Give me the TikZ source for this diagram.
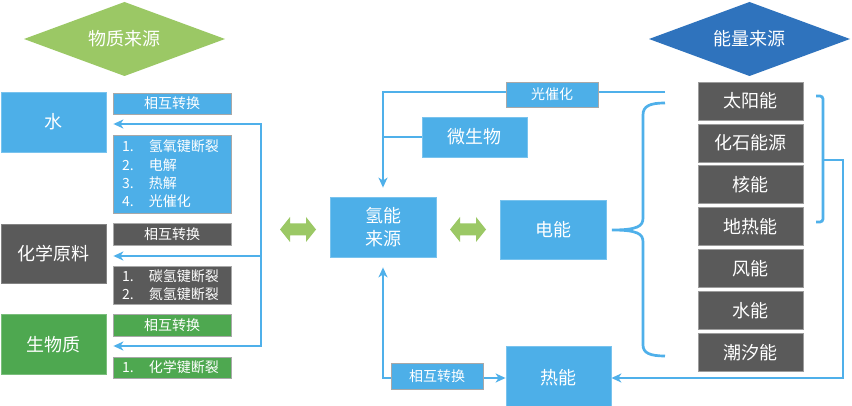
\documentclass[tikz,border=0pt]{standalone}
\usepackage{fontspec}
\setmainfont{Noto Sans CJK SC}
\usetikzlibrary{arrows.meta,backgrounds}
\definecolor{bbox}{HTML}{4DAFE8}
\definecolor{gbox}{HTML}{5A5A5A}
\definecolor{grbox}{HTML}{4EA850}
\definecolor{ldia}{HTML}{9BC865}
\definecolor{bdia}{HTML}{2F73BD}
\definecolor{cline}{HTML}{4FB0EA}
\definecolor{edge}{HTML}{A8A8A8}
\tikzset{
  big/.style={minimum width=105pt, minimum height=59pt, inner sep=0pt, text=white,
    font=\fontsize{18}{23}\selectfont, align=center, fill=#1, draw=#1!75!white, line width=0.8pt},
  small/.style={minimum width=118pt, inner sep=0pt, text=white,
    font=\fontsize{14}{18.3}\selectfont, fill=#1, draw=edge, line width=0.8pt},
  lst/.style={small=#1, text width=100pt, inner xsep=9pt, inner ysep=0pt, align=left},
  eng/.style={fill=gbox, draw=gbox!60!white, line width=0.6pt, minimum width=105pt, minimum height=38pt,
    inner sep=0pt, text=white, font=\fontsize{18}{22}\selectfont},
  diatext/.style={text=white, font=\fontsize{18}{22}\selectfont, inner sep=0pt},
  conn/.style={draw=cline, line width=2.7pt},
  arr/.style={-{Stealth[length=10pt,width=9pt,inset=3pt]}},
  barr/.style={{Stealth[length=10pt,width=9pt,inset=3pt]}-{Stealth[length=10pt,width=9pt,inset=3pt]}},
}
\newcommand\mydblarrow[1]{%
  \fill[ldia, shift={(#1)}] (-18,0) -- (-8,-12.5) -- (-8,-6) -- (8,-6) -- (8,-12.5) -- (18,0)
    -- (8,12.5) -- (8,6) -- (-8,6) -- (-8,12.5) -- cycle;}
\begin{document}
\begin{tikzpicture}[x=1pt,y=-1pt]
\useasboundingbox (0,0) rectangle (852,406);

% diamonds
\fill[ldia] (24,39) -- (124.5,2) -- (225,39) -- (124.5,76) -- cycle;
\node[diatext] (wzly) at (124.5,39) {物质来源};
\fill[bdia] (649,39) -- (749.5,2) -- (850,39) -- (749.5,76) -- cycle;
\node[diatext] (nlly) at (749.5,39) {能量来源};

% left column
\node[big=bbox, minimum height=60pt] (water) at (53.5,122) {水};
\node[big=gbox] (huaxue) at (53.5,253.5) {化学原料};
\node[big=grbox, minimum height=60pt] (shengwu) at (53.5,344.5) {生物质};

\node[small=bbox, minimum height=21pt] (hz1) at (172,103.5) {相互转换};
\node[lst=bbox, minimum height=78pt] (list1) at (172,174)
  {\makebox[27pt][l]{1.}氢氧键断裂\\\makebox[27pt][l]{2.}电解\\\makebox[27pt][l]{3.}热解\\\makebox[27pt][l]{4.}光催化};
\node[small=gbox, minimum height=22pt] (hz2) at (172,234.5) {相互转换};
\node[lst=gbox, minimum height=38pt] (list2) at (172,285)
  {\makebox[27pt][l]{1.}碳氢键断裂\\\makebox[27pt][l]{2.}氮氢键断裂};
\node[small=grbox, minimum height=22pt] (hz3) at (172,325.5) {相互转换};
\node[lst=grbox, minimum height=21pt] (list3) at (172,367.5)
  {\makebox[27pt][l]{1.}化学键断裂};

% middle
\node[big=bbox, minimum width=106pt, minimum height=60pt] (qing) at (383,227) {氢能\\来源};
\node[big=bbox, minimum width=106pt] (dian) at (553,229.5) {电能};
\node[small=bbox, minimum width=92pt, minimum height=25pt] (gch) at (552,94.5) {光催化};
\node[big=bbox, minimum height=40pt] (wsw) at (474.5,137) {微生物};
\node[small=bbox, minimum width=92pt, minimum height=26pt] (hz4) at (437,376) {相互转换};
\node[big=bbox, minimum height=64pt] (re) at (558.5,378) {热能};

\mydblarrow{298,229.5}
\mydblarrow{468,229.5}

% energy boxes
\node[eng] (e1) at (750.5,101) {太阳能};
\node[eng] (e2) at (750.5,142.9) {化石能源};
\node[eng] (e3) at (750.5,184.8) {核能};
\node[eng] (e4) at (750.5,226.7) {地热能};
\node[eng] (e5) at (750.5,268.6) {风能};
\node[eng] (e6) at (750.5,310.5) {水能};
\node[eng] (e7) at (750.5,352.4) {潮汐能};

\begin{scope}[on background layer]
  \fill[white] (0,0) rectangle (852,406);
  % left feed lines
  \coordinate (L1) at (261,124);
  \coordinate (L2) at (261,256);
  \coordinate (L3) at (261,346);
  \draw[conn, arr, shorten >=7pt] (L3) -- (L1) -- (L1 -| water.east);
  \draw[conn, arr, shorten >=7pt] (L2) -- (L2 -| huaxue.east);
  \draw[conn, arr, shorten >=7pt] (L1) -- (L3) -- (L3 -| shengwu.east);
  % photocatalysis line
  \coordinate (S1) at (665,92);
  \draw[conn, arr, shorten >=9pt] (S1) -- (S1 -| qing.north) -- (qing.north);
  \draw[conn] (wsw.west) -- (wsw.west -| qing.north);
  % heat interconversion
  \draw[conn, barr, shorten <=10pt] (qing.south) -- (qing.south |- re.west) -- (re.west);
  % right loop
  \coordinate (R1) at (823,160);
  \coordinate (R2) at (843,160);
  \coordinate (R3) at (843,378);
  \draw[conn, arr] (R1) -- (R2) -- (R3) -- (re.east);
\end{scope}

% right bracket
\draw[conn, rounded corners=3pt] (816,96) -- (823,96) -- (823,222) -- (816,222);
% left brace
\draw[conn] (665,103) .. controls (650,103) and (643,106) .. (643,115) -- (643,218)
  .. controls (643,226) and (638,230) .. (612,230)
  .. controls (638,230) and (643,234) .. (643,242) -- (643,345)
  .. controls (643,353) and (650,356) .. (665,356);
\end{tikzpicture}
\end{document}
